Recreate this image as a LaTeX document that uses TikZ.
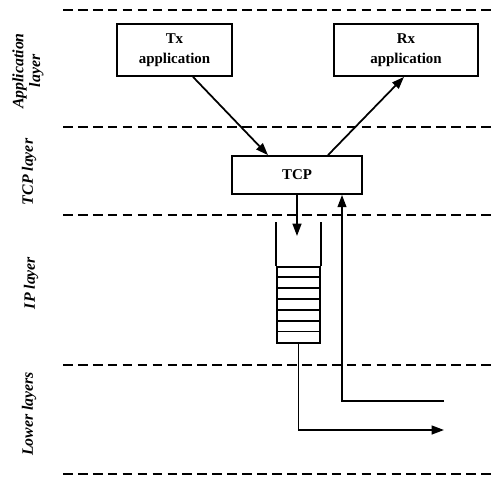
\documentclass[tikz,border=0pt]{standalone}
\usepackage{fontspec}
\setmainfont{Liberation Serif}
\usetikzlibrary{arrows.meta, positioning, calc}

\begin{document}
\begin{tikzpicture}[x=0.02cm,y=-0.02cm,
  box/.style={draw,line width=1pt,inner sep=0pt,align=center,font=\fontsize{8.5}{11.5}\selectfont\bfseries},
  layerline/.style={line width=1.3pt,dash pattern=on 5.5pt off 3pt},
  layerlabel/.style={rotate=90,align=center,font=\fontsize{9}{9.6}\selectfont\bfseries\itshape},
  arr/.style={line width=1pt,-{Triangle[length=7pt,width=5pt]}}]
\useasboundingbox (0,0) rectangle (494,478);
% layer boundaries
\foreach \y in {10,127,215,365,474}
  \draw[layerline] (63,\y) -- (494,\y);
\node[layerlabel] (applabel) at (28,71) {Application\\layer};
\node[layerlabel] (tcplabel) at (29,172) {TCP layer};
\node[layerlabel] (iplabel) at (31,283) {IP layer};
\node[layerlabel] (lowlabel) at (29,414) {Lower layers};
% boxes
\node[box,minimum width=2.3cm,minimum height=1.04cm] (tx) at (174.5,50) {Tx\\application};
\node[box,minimum width=2.88cm,minimum height=1.04cm] (rx) at (406,50) {Rx\\application};
\node[box,minimum width=2.6cm,minimum height=0.76cm] (tcp) at (297,175) {TCP};
% IP queue
\node[draw,line width=1pt,minimum width=0.86cm,minimum height=1.52cm,inner sep=0pt] (queue) at (298.5,305) {};
\draw[line width=1pt] (queue.north west) -- ++(0,-44);
\draw[line width=1pt] (queue.north east) -- ++(0,-44);
\foreach \i in {1,...,6}
  \draw[line width=1pt] ($(queue.north west)+(0,10.9*\i)$) -- ($(queue.north east)+(0,10.9*\i)$);
\coordinate (qin) at (297,236);
\coordinate (txend) at (444,430);
\coordinate (rxstart) at (444,401);
% connectors
\draw[arr] ($(tx.south)+(18.5,0)$) -- ($(tcp.north)+(-29,0)$);
\draw[arr] ($(tcp.north)+(31,0)$) -- ($(rx.south)+(-2,0)$);
\draw[arr] (tcp.south) -- (qin);
\draw[arr] (queue.south) |- (txend);
\draw[arr] (rxstart) -| ($(tcp.south)+(45,0)$);
\end{tikzpicture}
\end{document}
